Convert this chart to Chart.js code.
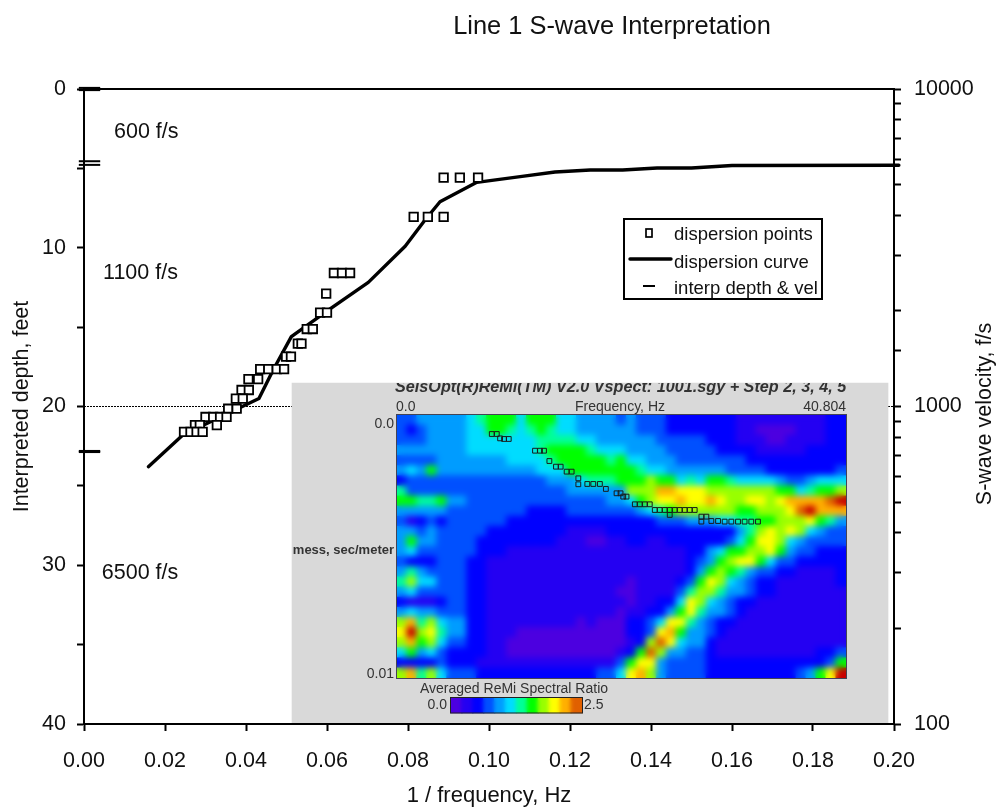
<!DOCTYPE html>
<html lang="en">
<head>
<meta charset="UTF-8" />
<title>Line 1 S-wave Interpretation</title>
<style>
  html, body { margin: 0; padding: 0; background: #fff; }
  canvas { display: block; }
</style>
</head>
<body>
<canvas id="chart" width="1008" height="807"></canvas>
<script src="https://cdn.jsdelivr.net/npm/chart.js"></script>
<script>
// dispersion points, 1/frequency (Hz axis) and depth (feet)
const pointFreq = [0.0888, 0.0928, 0.0973, 0.0814, 0.0849, 0.0888, 0.0617, 0.0637, 0.0657, 0.0598,
  0.0583, 0.0600, 0.0550, 0.0565, 0.0528, 0.0537, 0.0499, 0.0511, 0.0435, 0.0455, 0.0476, 0.0494,
  0.0406, 0.0430, 0.0389, 0.0407, 0.0375, 0.0392, 0.0356, 0.0377, 0.0300, 0.0319, 0.0336, 0.0352,
  0.0274, 0.0286, 0.0328, 0.0247, 0.0263, 0.0278, 0.0293];
const pointDepth = [5.58, 5.58, 5.58, 8.06, 8.06, 8.06, 11.59, 11.59, 11.59, 12.89,
  14.09, 14.09, 15.12, 15.12, 16.04, 16.04, 16.86, 16.86, 17.64, 17.64, 17.64, 17.64,
  18.27, 18.27, 18.96, 18.96, 19.5, 19.5, 20.14, 20.14, 20.66, 20.66, 20.66, 20.66,
  21.17, 21.17, 21.17, 21.6, 21.6, 21.6, 21.6];

// dispersion curve
const curveFreq = [0.0159, 0.0244, 0.0432, 0.0467, 0.0512, 0.0605, 0.0702, 0.0793, 0.0842, 0.0879,
  0.0970, 0.1077, 0.1163, 0.125, 0.133, 0.1415, 0.15, 0.16, 0.2012];
const curveDepth = [23.79, 21.8, 19.5, 17.7, 15.6, 13.9, 12.18, 9.9, 8.25, 7.1,
  5.88, 5.52, 5.23, 5.1, 5.1, 4.98, 4.98, 4.82, 4.8];

// interpreted layer boundaries, each one drawn twice
const interpDepth = [-0.07, 0.07, 4.55, 4.78, 22.8, 22.87];
const interpFreq = 0.00136;

const xTicks = [0, 0.02, 0.04, 0.06, 0.08, 0.1, 0.12, 0.14, 0.16, 0.18, 0.2];
const velocityLabels = [100, 1000, 10000];

const layerNotes = ['600 f/s', '1100 f/s', '6500 f/s'];
const layerNoteFreq = [0.0074, 0.0047, 0.0044];
const layerNoteDepth = [2.71, 11.6, 30.5];

// inset spectrum, one character per cell: level 0..9,a,b,c
const heatRows = [
  '334444456777577755444434333222222211111111122',
  '323444455776567655444444333222222211000011122',
  '333444455555556666554444443333322211100111122',
  '444444455555556777765554444333332222111112222',
  '333344444445555677777675544433333332222222222',
  '454744444444445557777777655444444333322222223',
  '233333333333333444566677787756577655554334555',
  '63333333333333333444444888aa99988888887756778',
  '7766744333333333333334457899a99a9889989aaaabc',
  '4444433333333222233333334567888888778889bcaaa',
  '312323333332222222222222223334445566778889764',
  '443433333222222221111222222222222246898985433',
  '474433332222222211100112211222222357998543333',
  '453333332221111111111111111112245778897433222',
  '322233322111111111111111111112347899753322222',
  '464333322111111111111111111112478764332211112',
  '685533322111111111111110111123798543221111112',
  '453333322111111111111100111136886443221111111',
  '211123322111111111111110112259854322111111111',
  '454433322111111111111101122479644321111111111',
  '8a6854422111111111010002235996432211111111111',
  '9c8964422111000000000002239a74432111111111111',
  '8a785332211000000000000128b954421111111111111',
  '5745322221100000000000127b8443321111111111223',
  '222232221111111111111137994333322222222222237',
  '8a6853332222222222223359a8433332222222223479c'
];
const levelColors = {
  0: '#4c00e0', 1: '#2400f2', 2: '#0000ff', 3: '#0050ff', 4: '#009cff', 5: '#00dcff', 6: '#00ff98',
  7: '#00ff00', 8: '#98ff00', 9: '#ffff00', a: '#ffb000', b: '#e06000', c: '#c80000'
};
const colorbarLevels = ['0', '1', '2', '3', '4', '5', '6', '7', '8', '9', 'a', 'b'];

// dispersion picks on the inset, in heat cells (column, row)
const insetCols = [9.5, 10, 10.33, 10.73, 11.2, 13.83, 14.33, 14.73, 15.27, 15.93, 16.4, 17, 17.5, 18.17,
  18.17, 19.07, 19.67, 20.33, 20.93, 22, 22.4, 22.67, 23, 23.83, 24.33, 24.83, 25.33, 25.83, 26.33,
  26.83, 27.33, 27.83, 28.33, 28.83, 29.33, 29.83, 27.33, 30.5, 30.5, 31, 31.5, 32.17, 32.83, 33.5,
  34.17, 34.83, 35.5, 36.17];
const insetRows = [1.88, 1.88, 2.31, 2.37, 2.37, 3.53, 3.53, 3.53, 4.55, 5.11, 5.11, 5.6, 5.6, 6.26,
  6.85, 6.82, 6.82, 6.82, 7.31, 7.74, 7.74, 8.07, 8.07, 8.83, 8.83, 8.83, 8.83, 9.39, 9.39, 9.39, 9.39,
  9.39, 9.39, 9.39, 9.39, 9.39, 9.88, 10.05, 10.54, 10.05, 10.48, 10.48, 10.54, 10.54, 10.54, 10.54,
  10.54, 10.54];

const FONT = '"Liberation Sans", Arial, sans-serif';
const INK = '#111';

const heatCells = heatRows.flatMap((row, r) => [...row].map((ch, c) => ({ x: c + 0.5, y: [r, r + 1.05] })));
const heatColors = heatRows.flatMap(row => [...row].map(ch => levelColors[ch]));

const insetTexts = [
  { text: 'SeisOpt(R)ReMi(TM) V2.0 Vspect: 1001.sgy + Step 2, 3, 4, 5', x: 395, y: 388, font: 'italic bold 16.2px', align: 'left' },
  { text: '0.0', x: 396, y: 407, font: '14px', align: 'left' },
  { text: 'Frequency, Hz', x: 620, y: 407, font: '14px', align: 'center' },
  { text: '40.804', x: 846, y: 407, font: '14px', align: 'right' },
  { text: '0.0', x: 394, y: 424, font: '14px', align: 'right' },
  { text: 'mess, sec/meter', x: 394, y: 550, font: 'bold 13px', align: 'right' },
  { text: '0.01', x: 394, y: 674, font: '14px', align: 'right' },
  { text: 'Averaged ReMi Spectral Ratio', x: 514, y: 689, font: '14px', align: 'center' },
  { text: '0.0', x: 447, y: 705, font: '14px', align: 'right' },
  { text: '2.5', x: 584, y: 705, font: '14px', align: 'left' }
];

const blurCopy = (chart, x, y, w, h, px) => {
  const ctx = chart.ctx;
  ctx.save();
  ctx.beginPath();
  ctx.rect(x, y, w, h);
  ctx.clip();
  ctx.filter = `blur(${px}px)`;
  ctx.drawImage(ctx.canvas, x, y, w, h, x, y, w, h);
  ctx.restore();
};

const drawText = (ctx, text, x, y, font, align) => {
  ctx.font = `${font} ${FONT}`;
  ctx.textAlign = align || 'left';
  ctx.textBaseline = 'middle';
  ctx.fillText(text, x, y);
};

const insetPlugin = {
  id: 'inset',
  afterDatasetDraw(chart, args) {
    const label = chart.data.datasets[args.index].label;
    if (label === 'spectrum') blurCopy(chart, 397, 415, 449, 263, 3);
    if (label === 'colorbar') blurCopy(chart, 451, 698, 131, 15, 2);
    if (label === 'inset picks') {
      const ctx = chart.ctx;
      ctx.save();
      ctx.strokeStyle = '#445';
      ctx.lineWidth = 1;
      ctx.strokeRect(396.5, 414.5, 450, 264);
      ctx.strokeStyle = '#222';
      ctx.strokeRect(450.5, 697.5, 132, 15.5);
      ctx.fillStyle = '#333';
      insetTexts.forEach(t => {
        ctx.save();
        ctx.beginPath();
        ctx.rect(292, 383, 596, 340);
        ctx.clip();
        drawText(ctx, t.text, t.x, t.y, t.font, t.align);
        ctx.restore();
      });
      ctx.restore();
      blurCopy(chart, 292, 383, 596, 340, 0.7);
    }
  }
};

const labelsPlugin = {
  id: 'chartText',
  afterDraw(chart) {
    const ctx = chart.ctx;
    const { x, y } = chart.scales;
    ctx.save();
    ctx.fillStyle = INK;
    drawText(ctx, 'Line 1 S-wave Interpretation', 612, 27, '25.4px', 'center');
    layerNotes.forEach((note, i) => {
      drawText(ctx, note, x.getPixelForValue(layerNoteFreq[i]), y.getPixelForValue(layerNoteDepth[i]), '21.5px', 'left');
    });

    // right axis title reads bottom to top
    ctx.save();
    ctx.translate(985, 414);
    ctx.rotate(-Math.PI / 2);
    drawText(ctx, 'S-wave velocity, f/s', 0, 0, '21.5px', 'center');
    ctx.restore();

    // legend box
    ctx.fillStyle = '#fff';
    ctx.strokeStyle = '#000';
    ctx.lineWidth = 2;
    ctx.fillRect(624, 219, 198, 80);
    ctx.strokeRect(624, 219, 198, 80);
    ctx.lineWidth = 1.7;
    ctx.strokeRect(646, 229, 6, 8);
    ctx.lineCap = 'round';
    ctx.lineWidth = 3.4;
    ctx.beginPath();
    ctx.moveTo(630, 259);
    ctx.lineTo(671, 259);
    ctx.stroke();
    ctx.lineCap = 'butt';
    ctx.lineWidth = 2;
    ctx.beginPath();
    ctx.moveTo(643, 286);
    ctx.lineTo(655, 286);
    ctx.stroke();
    ctx.fillStyle = INK;
    drawText(ctx, 'dispersion points', 674, 235, '18.5px', 'left');
    drawText(ctx, 'dispersion curve', 674, 263, '18.5px', 'left');
    drawText(ctx, 'interp depth & vel', 674, 289, '18.5px', 'left');
    ctx.restore();
  }
};

const axisLine = { display: true, color: '#000', width: 2 };
const tickStyle = { drawOnChartArea: false, drawTicks: true, tickColor: '#000', tickWidth: 2, tickLength: 7, offset: false };

new Chart(document.getElementById('chart'), {
  type: 'scatter',
  plugins: [insetPlugin, labelsPlugin],
  data: {
    datasets: [
      {
        label: 'depth 20 line', type: 'line', order: 9, xAxisID: 'x', yAxisID: 'y',
        data: [{ x: 0, y: 20 }, { x: 0.2, y: 20 }],
        borderColor: '#000', borderWidth: 1, borderDash: [2, 1], pointRadius: 0
      },
      {
        label: 'panel', type: 'bar', order: 8, xAxisID: 'x', yAxisID: 'y', grouped: false,
        data: [{ x: 0.12494, y: [18.52, 39.92] }],
        backgroundColor: '#d9d9d9', barThickness: 596
      },
      {
        label: 'spectrum', type: 'bar', order: 7, xAxisID: 'heatX', yAxisID: 'heatY', grouped: false,
        data: heatCells, backgroundColor: heatColors, barThickness: 10.6
      },
      {
        label: 'colorbar', type: 'bar', order: 6, xAxisID: 'heatX', yAxisID: 'heatY', grouped: false,
        data: colorbarLevels.map((lv, i) => ({ x: 5.41 + (i + 0.5) * 1.094, y: [27.98, 29.46] })),
        backgroundColor: colorbarLevels.map(lv => levelColors[lv]), barThickness: 11.6
      },
      {
        label: 'inset picks', order: 5, xAxisID: 'heatX', yAxisID: 'heatY',
        data: insetCols.map((c, i) => ({ x: c, y: insetRows[i] })),
        pointStyle: 'rect', pointRadius: 3.4, pointBorderWidth: 1, pointBorderColor: '#1a1a1a',
        pointBackgroundColor: 'transparent'
      },
      {
        label: 'dispersion curve', type: 'line', order: 3, xAxisID: 'x', yAxisID: 'y', clip: false,
        data: curveFreq.map((f, i) => ({ x: f, y: curveDepth[i] })),
        borderColor: '#000', borderWidth: 3.4, borderCapStyle: 'round', borderJoinStyle: 'round',
        pointRadius: 0, tension: 0
      },
      {
        label: 'dispersion points', order: 2, xAxisID: 'x', yAxisID: 'y',
        data: pointFreq.map((f, i) => ({ x: f, y: pointDepth[i] })),
        pointStyle: 'rect', pointRadius: 6, pointBorderWidth: 1.8, pointBorderColor: '#000',
        pointBackgroundColor: '#fff'
      },
      {
        label: 'interp depth & vel', order: 1, xAxisID: 'x', yAxisID: 'y', clip: false,
        data: interpDepth.map(d => ({ x: interpFreq, y: d })),
        pointStyle: 'line', pointRadius: 10.7, pointBorderWidth: 2, pointBorderColor: '#000'
      }
    ]
  },
  options: {
    responsive: false,
    animation: false,
    devicePixelRatio: 1,
    layout: { padding: 0 },
    plugins: { legend: { display: false }, tooltip: { enabled: false }, title: { display: false } },
    scales: {
      x: {
        type: 'linear', position: 'bottom', min: 0, max: 0.2, offset: false,
        afterFit: s => { s.height = 83; },
        afterBuildTicks: s => { s.ticks = xTicks.map(v => ({ value: v })); },
        border: axisLine, grid: tickStyle,
        ticks: {
          autoSkip: false, maxRotation: 0, color: INK, padding: 17,
          font: { family: FONT, size: 21.5 },
          callback: v => v.toFixed(2)
        },
        title: { display: true, text: '1 / frequency, Hz', color: INK, font: { family: FONT, size: 22 }, padding: { top: 4, bottom: -2 } }
      },
      xTop: {
        type: 'linear', position: 'top', min: 0, max: 0.2, offset: false,
        afterFit: s => { s.height = 89; },
        border: axisLine,
        grid: { drawOnChartArea: false, drawTicks: false, offset: false },
        ticks: { display: false }
      },
      y: {
        type: 'linear', position: 'left', reverse: true, min: 0, max: 40, offset: false,
        afterFit: s => { s.width = 84; },
        border: axisLine, grid: tickStyle,
        ticks: {
          stepSize: 5, autoSkip: false, color: INK, padding: 11,
          font: { family: FONT, size: 21.5 },
          callback: v => (v % 10 === 0 ? v : '')
        },
        title: { display: true, text: 'Interpreted depth, feet', color: INK, font: { family: FONT, size: 21.5 }, padding: { top: 9, bottom: 0 } }
      },
      velocity: {
        type: 'logarithmic', position: 'right', min: 100, max: 10000, offset: false,
        afterFit: s => { s.width = 114; },
        border: axisLine, grid: tickStyle,
        ticks: {
          autoSkip: false, color: INK, padding: 13,
          font: { family: FONT, size: 21.5 },
          callback: v => (velocityLabels.includes(v) ? String(v) : '')
        }
      },
      heatX: { type: 'linear', display: false, min: -31.36, max: 49.8, offset: false, grid: { offset: false } },
      heatY: { type: 'linear', display: false, reverse: true, min: -32.23, max: 30.55, offset: false, grid: { offset: false } }
    }
  }
});
</script>
</body>
</html>
